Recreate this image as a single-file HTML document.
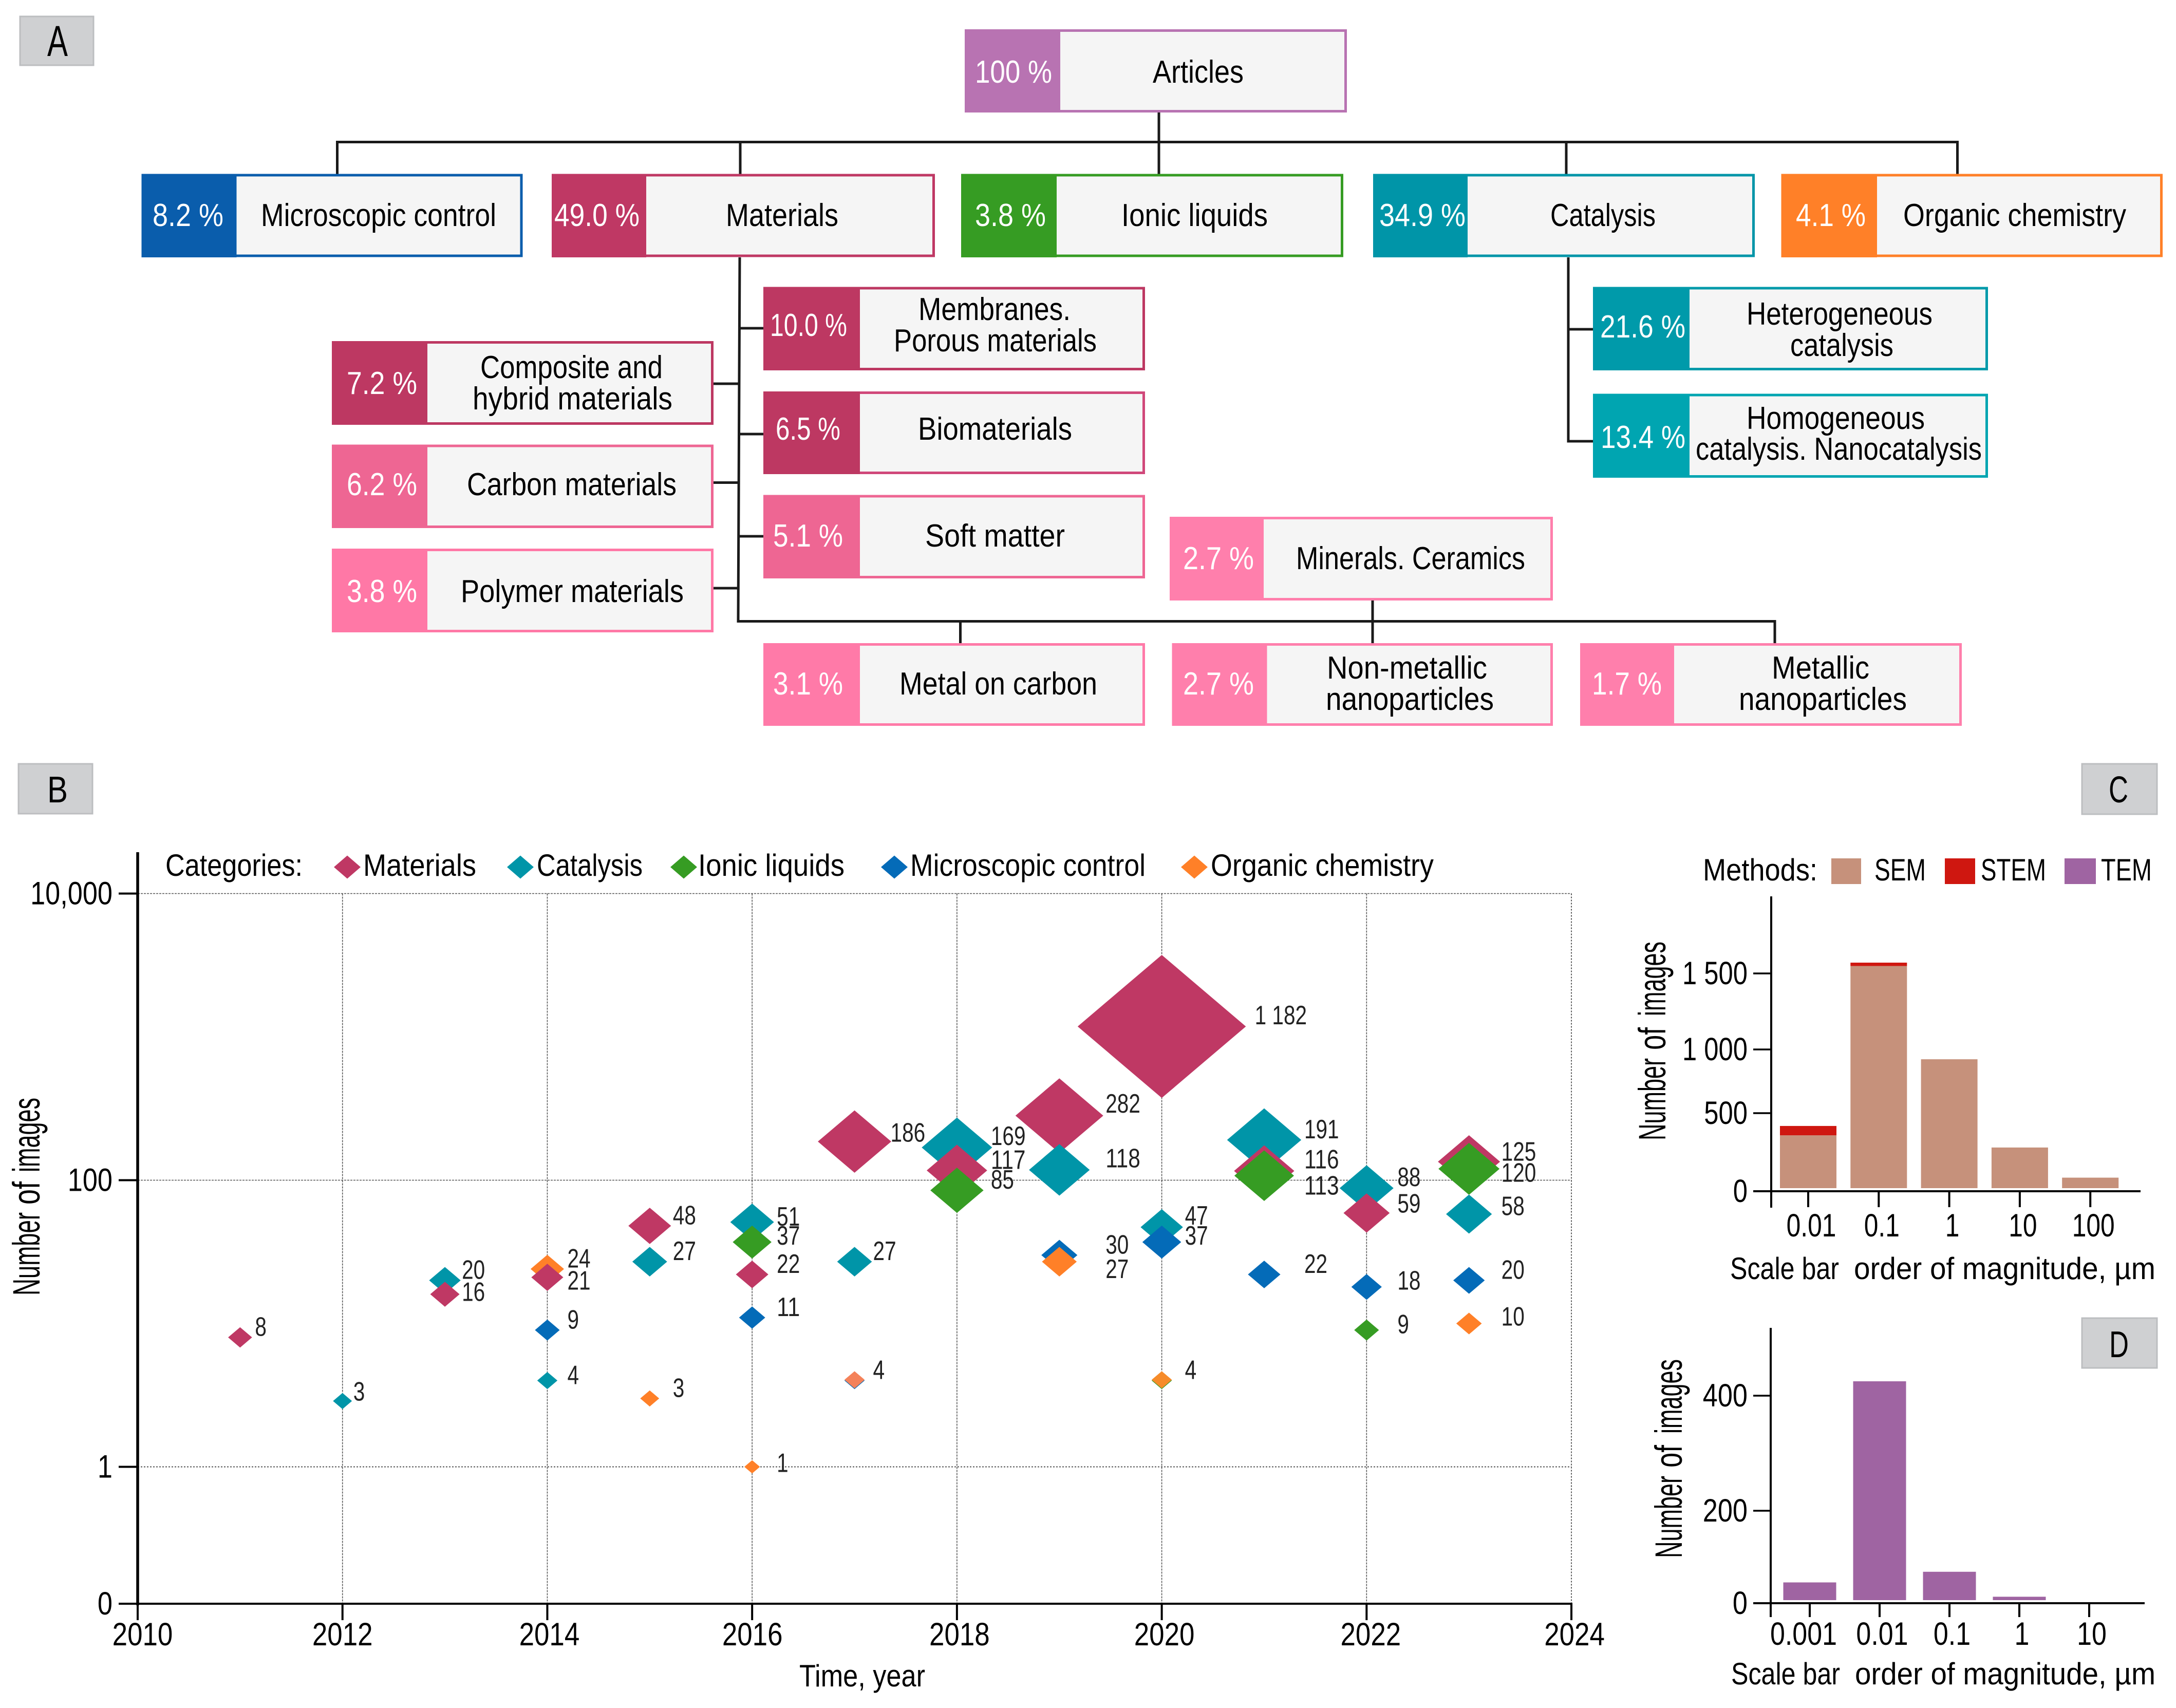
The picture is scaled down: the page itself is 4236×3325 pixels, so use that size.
<!DOCTYPE html>
<html lang="en">
<head>
<meta charset="utf-8">
<title>Articles taxonomy and image statistics</title>
<style>
html,body{margin:0;padding:0;background:#fff;width:4236px;height:3325px;overflow:hidden}
svg{display:block}
text{font-family:"Liberation Sans",sans-serif;fill:#000}
.pct{fill:#fff;font-size:62px;transform:translateY(-2px)}
.lab{font-size:62px;fill:#000;transform:translateY(-2px)}
.panel{fill:#cfd0d2;stroke:#bcbec0;stroke-width:3}
.pl{font-size:84px}
.conn{stroke:#1a1a1a;stroke-width:5;fill:none}
.bx{fill:#f5f5f5;stroke-width:5}
</style>
</head>
<body>
<svg id="root" xmlns="http://www.w3.org/2000/svg" width="4236" height="3325" viewBox="0 0 4236 3325">
<rect width="4236" height="3325" fill="#fff"/>

<g>
<rect class="panel" x="39" y="32" width="143" height="95"/>
<text class="pl" x="92" y="109" textLength="40" lengthAdjust="spacingAndGlyphs">A</text>
</g>

<g class="conn">
<path d="M656.5 339V276.5H3810.5V339"/>
<path d="M2256 218V339"/>
<path d="M1441 276.5V339"/>
<path d="M3049 276.5V339"/>
<path d="M1440 501L1437 1209.5H3455V1252"/>
<path d="M1869.5 1209.5V1252"/>
<path d="M2672 1169V1252"/>
<path d="M1440 639H1486M1439 845H1486M1438 1044H1486"/>
<path d="M1389 747H1439M1389 939.500H1438M1389 1145H1438"/>
<path d="M3053 501V859H3101M3053 641H3101"/>
</g>

<g>
<rect class="bx" x="1880.500" y="59.500" width="739" height="157" stroke="#b873b2"/>
<rect x="1878" y="57" width="186" height="162" fill="#b873b2"/>
<text class="pct" x="1898" y="163" textLength="150" lengthAdjust="spacingAndGlyphs">100 %</text>
<text class="lab" x="2244" y="163" textLength="177" lengthAdjust="spacingAndGlyphs">Articles</text>
</g>

<g>
<rect class="bx" x="278" y="341" width="737" height="157" stroke="#0a5dac"/>
<rect x="275.500" y="339" width="185" height="162" fill="#0a5dac"/>
<text class="pct" x="297" y="442" textLength="138" lengthAdjust="spacingAndGlyphs">8.2 %</text>
<text class="lab" x="508" y="442" textLength="458" lengthAdjust="spacingAndGlyphs">Microscopic control</text>
</g>

<g>
<rect class="bx" x="1076.500" y="341" width="741" height="157" stroke="#bf3864"/>
<rect x="1074" y="339" width="184" height="162" fill="#bf3864"/>
<text class="pct" x="1079" y="442" textLength="166" lengthAdjust="spacingAndGlyphs">49.0 %</text>
<text class="lab" x="1413" y="442" textLength="219" lengthAdjust="spacingAndGlyphs">Materials</text>
</g>

<g>
<rect class="bx" x="1873.500" y="341" width="739" height="157" stroke="#369c23"/>
<rect x="1871" y="339" width="186" height="162" fill="#369c23"/>
<text class="pct" x="1898" y="442" textLength="138" lengthAdjust="spacingAndGlyphs">3.8 %</text>
<text class="lab" x="2183" y="442" textLength="285" lengthAdjust="spacingAndGlyphs">Ionic liquids</text>
</g>

<g>
<rect class="bx" x="2675.500" y="341" width="738" height="157" stroke="#0095a8"/>
<rect x="2673" y="339" width="184" height="162" fill="#0095a8"/>
<text class="pct" x="2685" y="442" textLength="168" lengthAdjust="spacingAndGlyphs">34.9 %</text>
<text class="lab" x="3018" y="442" textLength="205" lengthAdjust="spacingAndGlyphs">Catalysis</text>
</g>

<g>
<rect class="bx" x="3470" y="341" width="737.500" height="157" stroke="#ff8028"/>
<rect x="3467.500" y="339" width="186.500" height="162" fill="#ff8028"/>
<text class="pct" x="3496" y="442" textLength="136" lengthAdjust="spacingAndGlyphs">4.1 %</text>
<text class="lab" x="3705" y="442" textLength="434" lengthAdjust="spacingAndGlyphs">Organic chemistry</text>
</g>

<g>
<rect class="bx" x="1488.500" y="561" width="738" height="157.500" stroke="#bd3862"/>
<rect x="1486" y="558.500" width="188" height="162.500" fill="#bd3862"/>
<text class="pct" x="1499" y="656" textLength="150" lengthAdjust="spacingAndGlyphs">10.0 %</text>
<text class="lab" x="1788" y="625" textLength="296" lengthAdjust="spacingAndGlyphs">Membranes.</text>
<text class="lab" x="1740" y="686" textLength="395" lengthAdjust="spacingAndGlyphs">Porous materials</text>
</g>

<g>
<rect class="bx" x="1488.500" y="764.500" width="738" height="156" stroke="#d0487a"/>
<rect x="1486" y="762" width="188" height="161" fill="#bd3862"/>
<text class="pct" x="1510" y="858" textLength="126" lengthAdjust="spacingAndGlyphs">6.5 %</text>
<text class="lab" x="1787" y="858" textLength="300" lengthAdjust="spacingAndGlyphs">Biomaterials</text>
</g>

<g>
<rect class="bx" x="1488.500" y="966" width="738" height="157.500" stroke="#ee6693"/>
<rect x="1486" y="963.500" width="188" height="162.500" fill="#ee6693"/>
<text class="pct" x="1505" y="1066" textLength="136" lengthAdjust="spacingAndGlyphs">5.1 %</text>
<text class="lab" x="1801" y="1066" textLength="272" lengthAdjust="spacingAndGlyphs">Soft matter</text>
</g>

<g>
<rect class="bx" x="1488.500" y="1254.500" width="738" height="156" stroke="#ff7aa8"/>
<rect x="1486" y="1252" width="188" height="161" fill="#ff7aa8"/>
<text class="pct" x="1505" y="1354" textLength="136" lengthAdjust="spacingAndGlyphs">3.1 %</text>
<text class="lab" x="1751" y="1354" textLength="385" lengthAdjust="spacingAndGlyphs">Metal on carbon</text>
</g>

<g>
<rect class="bx" x="648.500" y="666.500" width="738" height="158" stroke="#bd3862"/>
<rect x="646" y="664" width="186" height="163" fill="#bd3862"/>
<text class="pct" x="675" y="769" textLength="137" lengthAdjust="spacingAndGlyphs">7.2 %</text>
<text class="lab" x="935" y="738" textLength="355" lengthAdjust="spacingAndGlyphs">Composite and</text>
<text class="lab" x="920" y="799" textLength="389" lengthAdjust="spacingAndGlyphs">hybrid materials</text>
</g>

<g>
<rect class="bx" x="648.500" y="868" width="738" height="157.500" stroke="#ee6693"/>
<rect x="646" y="865.500" width="186" height="162.500" fill="#ee6693"/>
<text class="pct" x="675" y="966" textLength="137" lengthAdjust="spacingAndGlyphs">6.2 %</text>
<text class="lab" x="909" y="966" textLength="408" lengthAdjust="spacingAndGlyphs">Carbon materials</text>
</g>

<g>
<rect class="bx" x="648.500" y="1070.500" width="738" height="158" stroke="#ff78a6"/>
<rect x="646" y="1068" width="186" height="163" fill="#ff78a6"/>
<text class="pct" x="675" y="1174" textLength="137" lengthAdjust="spacingAndGlyphs">3.8 %</text>
<text class="lab" x="897" y="1174" textLength="434" lengthAdjust="spacingAndGlyphs">Polymer materials</text>
</g>

<g>
<rect class="bx" x="3103.500" y="561" width="764" height="157.500" stroke="#009aaa"/>
<rect x="3101" y="558.500" width="188" height="162.500" fill="#009aaa"/>
<text class="pct" x="3115" y="659" textLength="166" lengthAdjust="spacingAndGlyphs">21.6 %</text>
<text class="lab" x="3400" y="634" textLength="362" lengthAdjust="spacingAndGlyphs">Heterogeneous</text>
<text class="lab" x="3485" y="695" textLength="201" lengthAdjust="spacingAndGlyphs">catalysis</text>
</g>

<g>
<rect class="bx" x="3103.500" y="769" width="764" height="158.500" stroke="#00a5b1"/>
<rect x="3101" y="766.500" width="188" height="163.500" fill="#00a5b1"/>
<text class="pct" x="3116" y="874" textLength="165" lengthAdjust="spacingAndGlyphs">13.4 %</text>
<text class="lab" x="3400" y="837" textLength="347" lengthAdjust="spacingAndGlyphs">Homogeneous</text>
<text class="lab" x="3301" y="897" textLength="557" lengthAdjust="spacingAndGlyphs">catalysis. Nanocatalysis</text>
</g>

<g>
<rect class="bx" x="2279.500" y="1008.500" width="741" height="158" stroke="#ff7fac"/>
<rect x="2277" y="1006" width="183" height="163" fill="#ff7fac"/>
<text class="pct" x="2303" y="1110" textLength="138" lengthAdjust="spacingAndGlyphs">2.7 %</text>
<text class="lab" x="2523" y="1110" textLength="446" lengthAdjust="spacingAndGlyphs">Minerals. Ceramics</text>
</g>

<g>
<rect class="bx" x="2284" y="1254.500" width="736.500" height="156" stroke="#ff7fac"/>
<rect x="2281.500" y="1252" width="185" height="161" fill="#ff7fac"/>
<text class="pct" x="2303" y="1354" textLength="138" lengthAdjust="spacingAndGlyphs">2.7 %</text>
<text class="lab" x="2583" y="1323" textLength="312" lengthAdjust="spacingAndGlyphs">Non-metallic</text>
<text class="lab" x="2581" y="1384" textLength="327" lengthAdjust="spacingAndGlyphs">nanoparticles</text>
</g>

<g>
<rect class="bx" x="3078.500" y="1254.500" width="738" height="156" stroke="#ff7fac"/>
<rect x="3076" y="1252" width="183" height="161" fill="#ff7fac"/>
<text class="pct" x="3099" y="1354" textLength="136" lengthAdjust="spacingAndGlyphs">1.7 %</text>
<text class="lab" x="3449" y="1323" textLength="190" lengthAdjust="spacingAndGlyphs">Metallic</text>
<text class="lab" x="3385" y="1384" textLength="327" lengthAdjust="spacingAndGlyphs">nanoparticles</text>
</g>

<g>
<rect class="panel" x="36" y="1487" width="144" height="97"/>
<text class="pl" x="92" y="1562" textLength="40" lengthAdjust="spacingAndGlyphs" style="font-size:72px">B</text>
</g>
<g>
<rect class="panel" x="4053" y="1487" width="146" height="98"/>
<text class="pl" x="4105" y="1562" textLength="38" lengthAdjust="spacingAndGlyphs" style="font-size:72px">C</text>
</g>
<g>
<rect class="panel" x="4053" y="2566" width="146" height="97"/>
<text class="pl" x="4106" y="2642" textLength="38" lengthAdjust="spacingAndGlyphs" style="font-size:72px">D</text>
</g>

<g id="chart-b">
<g id="b-grid"></g>
<g id="b-marks"></g>
<g id="b-axes"></g>
<text x="322" y="1705" font-size="60" textLength="267" lengthAdjust="spacingAndGlyphs">Categories:</text>
<text x="1556" y="3283" font-size="60" textLength="245" lengthAdjust="spacingAndGlyphs">Time, year</text>
<g transform="translate(77,2522) rotate(-90)" font-size="74">
<text x="0" y="0" textLength="162" lengthAdjust="spacingAndGlyphs">Number</text>
<text x="177" y="0" textLength="45" lengthAdjust="spacingAndGlyphs">of</text>
<text x="240" y="0" textLength="145" lengthAdjust="spacingAndGlyphs">images</text>
</g>
<g><path d="M650 1688L676 1665.500L702 1688L676 1710.500Z" fill="#bf3864"/><text x="707" y="1705" font-size="60" textLength="220" lengthAdjust="spacingAndGlyphs">Materials</text></g>
<g><path d="M987 1688L1013 1665.500L1039 1688L1013 1710.500Z" fill="#0095a8"/><text x="1045" y="1705" font-size="60" textLength="206" lengthAdjust="spacingAndGlyphs">Catalysis</text></g>
<g><path d="M1305 1688L1331 1665.500L1357 1688L1331 1710.500Z" fill="#369c23"/><text x="1359" y="1705" font-size="60" textLength="285" lengthAdjust="spacingAndGlyphs">Ionic liquids</text></g>
<g><path d="M1715 1688L1741 1665.500L1767 1688L1741 1710.500Z" fill="#046bb8"/><text x="1772" y="1705" font-size="60" textLength="458" lengthAdjust="spacingAndGlyphs">Microscopic control</text></g>
<g><path d="M2299 1688L2325 1665.500L2351 1688L2325 1710.500Z" fill="#ff8028"/><text x="2357" y="1705" font-size="60" textLength="434" lengthAdjust="spacingAndGlyphs">Organic chemistry</text></g>
</g>

<g id="chart-c">
<text x="3315" y="1714" font-size="60" textLength="223" lengthAdjust="spacingAndGlyphs">Methods:</text>
<g><rect x="3565" y="1671" width="58" height="50" fill="#c6917b"/><text x="3649" y="1714" font-size="60" textLength="100" lengthAdjust="spacingAndGlyphs">SEM</text></g>
<g><rect x="3786" y="1671" width="59" height="50" fill="#cf1710"/><text x="3856" y="1714" font-size="60" textLength="127" lengthAdjust="spacingAndGlyphs">STEM</text></g>
<g><rect x="4019" y="1671" width="61" height="50" fill="#9f64a2"/><text x="4090" y="1714" font-size="60" textLength="99" lengthAdjust="spacingAndGlyphs">TEM</text></g>
<g transform="translate(3242,2220) rotate(-90)" font-size="74">
<text x="0" y="0" textLength="160" lengthAdjust="spacingAndGlyphs">Number</text>
<text x="176" y="0" textLength="44" lengthAdjust="spacingAndGlyphs">of</text>
<text x="242" y="0" textLength="145" lengthAdjust="spacingAndGlyphs">images</text>
</g>
<g font-size="60">
<text x="3368" y="2490" textLength="212" lengthAdjust="spacingAndGlyphs">Scale bar</text>
<text x="3609" y="2490" textLength="587" lengthAdjust="spacingAndGlyphs">order of magnitude, µm</text>
</g>
</g>

<g id="chart-d">
<g transform="translate(3274,3033) rotate(-90)" font-size="74">
<text x="0" y="0" textLength="160" lengthAdjust="spacingAndGlyphs">Number</text>
<text x="176" y="0" textLength="44" lengthAdjust="spacingAndGlyphs">of</text>
<text x="242" y="0" textLength="145" lengthAdjust="spacingAndGlyphs">images</text>
</g>
<g font-size="60">
<text x="3370" y="3279" textLength="212" lengthAdjust="spacingAndGlyphs">Scale bar</text>
<text x="3611" y="3279" textLength="585" lengthAdjust="spacingAndGlyphs">order of magnitude, µm</text>
</g>
</g>
</svg>

<script>
// ---- Panel B data ----
const materialsYears = [2011,2013,2014,2015,2016,2017,2018,2019,2020,2021,2022,2023];
const materialsValues = [8,16,21,48,22,186,117,282,1182,116,59,125];
const catalysisYears = [2012,2013,2014,2015,2016,2017,2018,2019,2020,2021,2022,2023];
const catalysisValues = [3,20,4,27,51,27,169,118,47,191,88,58];
const ionicYears = [2016,2018,2020,2021,2022,2023];
const ionicValues = [37,85,4,113,9,120];
const microscopicYears = [2014,2016,2017,2019,2020,2021,2022,2023];
const microscopicValues = [9,11,4,30,37,22,18,20];
const organicYears = [2014,2015,2016,2017,2019,2020,2023];
const organicValues = [24,3,1,4,27,4,10];
const bXTicks = [2010,2012,2014,2016,2018,2020,2022,2024];
const bYTicks = [10000,100,1,0];
const bYTickLabels = ['10,000','100','1','0'];

// ---- Panel C data ----
const cCategories = ['0.01','0.1','1','10','100'];
const cSem = [358,1549,923,280,87];
const cStem = [60,22,0,0,0];
const cYTicks = [0,500,1000,1500];
const cYTickLabels = ['0','500','1 000','1 500'];

// ---- Panel D data ----
const dCategories = ['0.001','0.01','0.1','1','10'];
const dTem = [45,425,68,14,0];
const dYTicks = [0,200,400];
const dYTickLabels = ['0','200','400'];

const NS = 'http://www.w3.org/2000/svg';
function mk(parent, tag, attrs){
  const el = document.createElementNS(NS, tag);
  for (const k in attrs) el.setAttribute(k, attrs[k]);
  parent.appendChild(el);
  return el;
}
function natWidth(s){
  let w = 0;
  for (const c of s) w += /[0-9]/.test(c) ? 0.556 : 0.278;
  return w;
}
function label(parent, str, x, y, fs, condense, anchor, fill){
  const len = natWidth(str) * fs * condense;
  const left = anchor === 'end' ? x - len : anchor === 'middle' ? x - len / 2 : x;
  const t = mk(parent, 'text', {x: left, y: y, 'font-size': fs, textLength: len, lengthAdjust: 'spacingAndGlyphs'});
  if (fill) t.style.fill = fill;
  t.textContent = str;
  return t;
}
function piecewise(domain, range){
  return function(v){
    let i = 0;
    while (i < domain.length - 2 && v > domain[i + 1]) i++;
    return range[i] + (v - domain[i]) * (range[i + 1] - range[i]) / (domain[i + 1] - domain[i]);
  };
}

// ---- Panel B ----
(function(){
  const xB = y => 268 + (y - 2010) * 199.36;
  const yB = v => v <= 0 ? 3122 : 2855.5 - 279 * Math.log10(v);
  const widthOf = v => 21.5 + 8.9 * Math.sqrt(v);
  const heightOf = v => widthOf(v) * 0.85;
  const fmt = v => v >= 1000 ? String(v).replace(/(\d)(\d{3})$/, '$1 $2') : String(v);

  const grid = document.getElementById('b-grid');
  for (const t of bYTicks) {
    if (t <= 0) continue;
    const dotted = t === 1;
    const line = mk(grid, 'line', {x1: 268, x2: 3059, y1: yB(t), y2: yB(t), stroke: '#555', 'stroke-width': dotted ? 2 : 1.4, 'stroke-dasharray': dotted ? '3 3' : '4 2'});
    
    
  }
  for (const t of bXTicks) {
    if (t === 2010) continue;
    const last = t === 2024;
    const line = mk(grid, 'line', {x1: xB(t), x2: xB(t), y1: yB(10000), y2: yB(0), stroke: '#555', 'stroke-width': last ? 2 : 1.6, 'stroke-dasharray': last ? '3 3' : '4 2'});
    
    
  }

  const series = [
    {key: 'materials', years: materialsYears, values: materialsValues, color: '#bf3864'},
    {key: 'catalysis', years: catalysisYears, values: catalysisValues, color: '#0095a8'},
    {key: 'ionic', years: ionicYears, values: ionicValues, color: '#369c23'},
    {key: 'microscopic', years: microscopicYears, values: microscopicValues, color: '#046bb8'},
    {key: 'organic', years: organicYears, values: organicValues, color: '#ff8028'}
  ];
  const points = [];
  series.forEach(s => s.years.forEach((yr, i) => points.push({key: s.key, color: s.color, year: yr, value: s.values[i]})));
  points.sort((a, b) => b.value - a.value);

  // small hand-placement offsets seen in the figure, relative to each mark
  const markNudge = {'materials-2023':-9,'ionic-2021':6,'catalysis-2012':5,'organic-2017':-1.5,'organic-2020':-1.5};
  const toneOverride = {'organic-2017':'#f4825a','organic-2020':'#f68b2a'};
  const yearDx = {2011:29,2012:21,2013:33,2014:39,2015:45,2016:48,2017:36,2018:66,2019:90,2020:45,2021:78,2022:60,2023:63};
  const shift = {
    'materials-2013':[0,13],'materials-2014':[0,24],'catalysis-2014':[0,7],'catalysis-2016':[0,7],
    'ionic-2016':[0,5],'organic-2016':[0,10],'materials-2017':[34,0],'catalysis-2018':[0,-5],
    'materials-2019':[0,-6],'catalysis-2019':[0,-5],'organic-2019':[0,32],'materials-2020':[136,-4],
    'catalysis-2020':[0,-5],'microscopic-2020':[0,5],'materials-2021':[0,-5],'ionic-2021':[0,43],
    'catalysis-2022':[0,-4],'materials-2022':[0,-1],'microscopic-2022':[0,5],'ionic-2022':[0,6],'materials-2023':[0,-11],
    'ionic-2023':[0,25],'catalysis-2023':[0,2],'organic-2023':[0,4],'catalysis-2012':[0,4]
  };

  const marks = document.getElementById('b-marks');
  for (const p of points) {
    const id = p.key + '-' + p.year;
    const cx = xB(p.year), cy = yB(p.value) + (markNudge[id] || 0), w = widthOf(p.value) / 2, h = heightOf(p.value) / 2;
    const d = mk(marks, 'path', {d: 'M' + (cx - w) + ' ' + cy + 'L' + cx + ' ' + (cy - h) + 'L' + (cx + w) + ' ' + cy + 'L' + cx + ' ' + (cy + h) + 'Z', fill: toneOverride[id] || p.color});
    
    
  }
  for (const p of points) {
    const id = p.key + '-' + p.year;
    const s = shift[id] || [0, -3];
    const t = label(marks, fmt(p.value), xB(p.year) + yearDx[p.year] + s[0], yB(p.value) + s[1], 52, 0.78, 'start', '#222');
    
    
  }

  const axes = document.getElementById('b-axes');
  const yAxis = mk(axes, 'line', {x1: 268, x2: 268, y1: 1659, y2: 3125, stroke: '#000', 'stroke-width': 5.5});
  
  
  const xAxis = mk(axes, 'line', {x1: 233, x2: 3061, y1: 3122, y2: 3122, stroke: '#000', 'stroke-width': 4});
  
  
  bYTicks.forEach((t, i) => {
    const tick = mk(axes, 'line', {x1: 231, x2: 268, y1: yB(t), y2: yB(t), stroke: '#000', 'stroke-width': 4});
    
    
    const txt = label(axes, bYTickLabels[i], 219, yB(t) + 21, 63, 0.83, 'end');
    
    
  });
  const tickLabelDx = {2010:9.5,2012:0,2014:4,2016:0.5,2018:5,2020:5,2022:8,2024:6};
  bXTicks.forEach(t => {
    const tick = mk(axes, 'line', {x1: xB(t), x2: xB(t), y1: 3122, y2: 3154, stroke: '#000', 'stroke-width': 4});
    
    
    const txt = label(axes, String(t), xB(t) + tickLabelDx[t], 3203, 63, 0.84, 'middle');
    
    
  });
})();

// ---- Panel C ----
(function(){
  const root = document.getElementById('chart-c');
  const yC = piecewise([0, 500, 1000, 1500], [2319, 2167, 2043, 1895]);
  const barLeft = i => 3465 + 137.3 * i;
  const barW = 110, base = 2313;
  cCategories.forEach((c, i) => {
    const semTop = yC(cSem[i]);
    const sem = mk(root, 'rect', {x: barLeft(i), y: semTop, width: barW, height: Math.max(0, base - semTop), fill: '#c6917b'});
    
    
    if (cStem[i] > 0) {
      const stemTop = yC(cSem[i] + cStem[i]);
      const stem = mk(root, 'rect', {x: barLeft(i), y: stemTop, width: barW, height: semTop - stemTop, fill: '#cf1710'});
      
      
    }
    const cx = barLeft(i) + barW / 2;
    const tick = mk(root, 'line', {x1: cx, x2: cx, y1: 2319, y2: 2350, stroke: '#000', 'stroke-width': 4});
    
    
    const txt = label(root, c, cx + 6, 2407, 63, 0.79, 'middle');
    
    
  });
  const yAxis = mk(root, 'line', {x1: 3448, x2: 3448, y1: 1745, y2: 2351, stroke: '#000', 'stroke-width': 4});
  
  
  const xAxis = mk(root, 'line', {x1: 3413, x2: 4167, y1: 2319, y2: 2319, stroke: '#000', 'stroke-width': 4});
  
  
  cYTicks.forEach((t, i) => {
    const tick = mk(root, 'line', {x1: 3413, x2: 3448, y1: yC(t), y2: yC(t), stroke: '#000', 'stroke-width': 3.5});
    
    
    const txt = label(root, cYTickLabels[i], 3402, yC(t) + 21, 63, 0.806, 'end');
    
    
  });
})();

// ---- Panel D ----
(function(){
  const root = document.getElementById('chart-d');
  const yD = piecewise([0, 200, 400], [3121, 2941, 2717]);
  const center = i => 3523 + 136 * i;
  const barW = 103, base = 3115;
  dCategories.forEach((c, i) => {
    const top = yD(dTem[i]);
    const h = Math.max(0, base - top);
    const bar = mk(root, 'rect', {x: center(i) - barW / 2, y: top, width: barW, height: h, fill: '#9f64a2'});
    
    
    const tick = mk(root, 'line', {x1: center(i), x2: center(i), y1: 3121, y2: 3148, stroke: '#000', 'stroke-width': 4});
    
    
    const txt = label(root, c, center(i) + (i === 0 ? -12 : 5), 3202, 63, 0.825, 'middle');
    
    
  });
  const yAxis = mk(root, 'line', {x1: 3447, x2: 3447, y1: 2585, y2: 3148, stroke: '#000', 'stroke-width': 4});
  
  
  const xAxis = mk(root, 'line', {x1: 3413, x2: 4175, y1: 3121, y2: 3121, stroke: '#000', 'stroke-width': 4});
  
  
  dYTicks.forEach((t, i) => {
    const tick = mk(root, 'line', {x1: 3413, x2: 3447, y1: yD(t), y2: yD(t), stroke: '#000', 'stroke-width': 3.5});
    
    
    const txt = label(root, dYTickLabels[i], 3402, yD(t) + 21, 63, 0.83, 'end');
    
    
  });
})();
</script>
</body>
</html>
